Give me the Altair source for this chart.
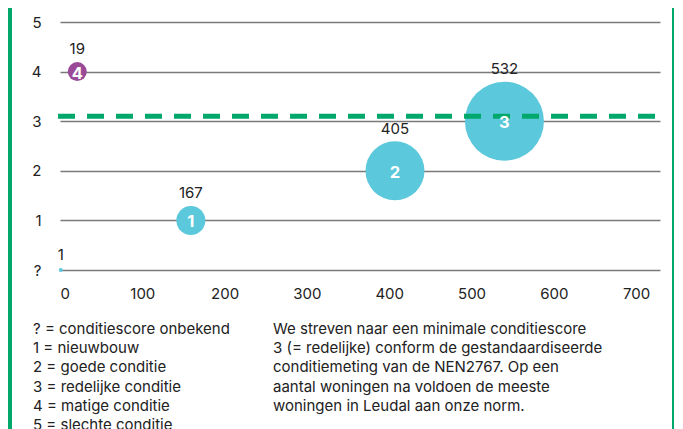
import altair as alt
import pandas as pd

# ---- data ----
labels = ["?", "1", "2", "3", "4"]
scores = [0, 1, 2, 3, 4]
counts = [1, 167, 405, 532, 19]
x_positions = [1, 159, 407, 540, 21]
inner_labels = ["", "1", "2", "3", "4"]
target_score = 3.1
x_ticks = [0, 100, 200, 300, 400, 500, 600, 700]
y_ticks = [0, 1, 2, 3, 4, 5]

legend_lines = [
    "? = conditiescore onbekend",
    "1 = nieuwbouw",
    "2 = goede conditie",
    "3 = redelijke conditie",
    "4 = matige conditie",
    "5 = slechte conditie",
]
note_lines = [
    "We streven naar een minimale conditiescore",
    "3 (= redelijke) conform de gestandaardiseerde",
    "conditiemeting van de NEN2767. Op een",
    "aantal woningen na voldoen de meeste",
    "woningen in Leudal aan onze norm.",
]

# ---- styles ----
CYAN = "#5BC8DC"
PURPLE = "#9B4A97"
GREEN = "#00A86B"
TEXT = "#222222"
FONT = "Inter"
colors = [CYAN, CYAN, CYAN, CYAN, PURPLE]
size_domain = [0, 1, 19, 167, 405, 532]
size_range = [0, 16, 361, 841, 3481, 6241]

df = pd.DataFrame({
    "label": labels,
    "score": scores,
    "count": counts,
    "xpos": x_positions,
    "inner": inner_labels,
})

x_enc = alt.X(
    "xpos:Q",
    scale=alt.Scale(domain=[0, 729], nice=False, zero=False),
    axis=alt.Axis(values=x_ticks, grid=False, domain=False, ticks=False,
                  labelPadding=16, title=None),
)
y_enc = alt.Y(
    "score:Q",
    scale=alt.Scale(domain=[0, 5], nice=False),
    axis=alt.Axis(values=y_ticks, grid=True, gridColor="#7a7a7a", gridWidth=1.3,
                  domain=False, ticks=False, labelPadding=19,
                  labelExpr="datum.value == 0 ? '?' : datum.label", title=None),
)

base = alt.Chart(df)

bubbles = base.mark_circle(opacity=1, strokeWidth=0).encode(
    x=x_enc,
    y=y_enc,
    size=alt.Size("count:Q", scale=alt.Scale(domain=size_domain, range=size_range), legend=None),
    color=alt.Color("label:N", scale=alt.Scale(domain=labels, range=colors), legend=None),
)

one = alt.Data(values=[{"a": 1}])

target = alt.Chart(one).mark_rule(
    color=GREEN, strokeWidth=5, strokeDash=[17, 12]
).encode(
    x=alt.value(-2),
    x2=alt.value(600),
    y=alt.datum(target_score),
)

count_labels = base.mark_text(
    fontSize=15, font=FONT, color=TEXT, baseline="middle",
    dy=alt.expr("-0.97 * sqrt(scale('size', datum.count)) / 2 - 13.5"),
).encode(
    x="xpos:Q",
    y="score:Q",
    text="count:Q",
)

inner = base.mark_text(
    fontSize=16.5, font=FONT, fontWeight="bold", color="white", baseline="middle", dy=2
).encode(
    x="xpos:Q",
    y="score:Q",
    text="inner:N",
)

left_bar = alt.Chart(one).mark_rule(color=GREEN, strokeWidth=4).encode(
    x=alt.value(-50), y=alt.value(-14), y2=alt.value(407)
)
right_bar = alt.Chart(one).mark_rule(color=GREEN, strokeWidth=2).encode(
    x=alt.value(613), y=alt.value(-14), y2=alt.value(407)
)

legend_text = alt.Chart(one).mark_text(
    align="left", baseline="alphabetic", fontSize=15, font=FONT, color=TEXT, lineHeight=19.2
).encode(x=alt.value(-27), y=alt.value(312), text=alt.value(legend_lines))

note_text = alt.Chart(one).mark_text(
    align="left", baseline="alphabetic", fontSize=15, font=FONT, color=TEXT, lineHeight=19.2
).encode(x=alt.value(213), y=alt.value(312), text=alt.value(note_lines))

chart = alt.layer(
    bubbles, target, count_labels, inner, left_bar, right_bar, legend_text, note_text
).properties(
    width=600,
    height=248,
    autosize=alt.AutoSizeParams(type="none"),
    padding={"left": 52, "top": 14, "right": 15, "bottom": 159},
    background="white",
).configure_view(
    stroke=None
).configure_axis(
    labelFont=FONT, labelFontSize=15, labelColor=TEXT
)

chart.save("out.html", embed_options={"renderer": "svg", "actions": False})
